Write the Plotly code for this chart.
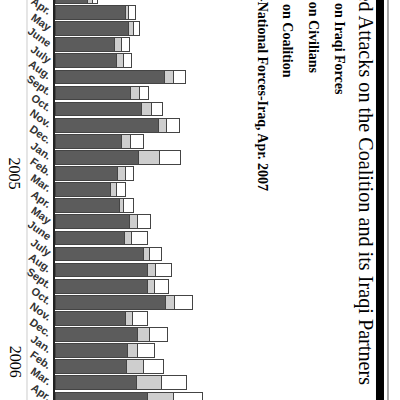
import plotly.graph_objects as go

# months shown top to bottom (Mar. 2004 is cut off at the top edge)
months = ["Mar.", "Apr.", "May", "June", "July", "Aug.", "Sept.", "Oct.", "Nov.", "Dec.",
          "Jan.", "Feb.", "Mar.", "Apr.", "May", "June", "July", "Aug.", "Sept.", "Oct.", "Nov.", "Dec.",
          "Jan.", "Feb.", "Mar.", "Apr."]
row_index = list(range(len(months)))

# average weekly attacks (estimates)
on_coalition = [128, 280, 292, 236, 244, 436, 300, 344, 412, 264,
                332, 248, 220, 256, 296, 276, 352, 368, 368, 440, 280, 328,
                288, 284, 324, 368]
on_civilians = [20, 12, 20, 28, 28, 36, 36, 40, 32, 36,
                84, 32, 24, 16, 32, 28, 24, 32, 28, 36, 28, 48,
                40, 68, 100, 104]
on_iraqi_forces = [20, 28, 24, 32, 32, 48, 36, 44, 52, 52,
                   84, 32, 36, 40, 52, 64, 48, 64, 56, 72, 60, 72,
                   68, 80, 100, 116]

year_labels = ["2005", "2006"]
year_rows = [11.0, 22.7]

title = "Enemy-Initiated Attacks on the Coalition and its Iraqi Partners"
legend_texts = ["Attacks on Iraqi Forces", "Attacks on Civilians", "Attacks on Coalition"]
source = "Source: Multi-National Forces-Iraq, Apr. 2007"

outline = dict(color="#444444", width=1)

fig = go.Figure()
fig.add_trace(go.Bar(y=row_index, x=on_coalition, orientation="h", name="Attacks on Coalition",
                     marker=dict(color="#5c5c5c", line=outline)))
fig.add_trace(go.Bar(y=row_index, x=on_civilians, orientation="h", name="Attacks on Civilians",
                     marker=dict(color="#cecece", line=outline)))
fig.add_trace(go.Bar(y=row_index, x=on_iraqi_forces, orientation="h", name="Attacks on Iraqi Forces",
                     marker=dict(color="#ffffff", line=outline)))

fig.update_layout(
    width=400, height=400,
    margin=dict(l=55, r=0, t=0, b=0),
    barmode="stack", bargap=0.15,
    showlegend=False,
    paper_bgcolor="white", plot_bgcolor="white",
    xaxis=dict(visible=False, range=[0, 1380], automargin=False),
    yaxis=dict(range=[25.07, 0.224], tickvals=row_index, ticktext=months,
               tickangle=35, ticks="", showgrid=False, zeroline=False, automargin=False,
               ticklabeloverflow="allow",
               showline=True, linecolor="#222222", linewidth=1.5,
               tickfont=dict(family="Liberation Sans", size=11, color="#333333", weight="bold")),
)

# rotated text: title, legend labels (swatches are off the crop), source
fig.add_annotation(text=title, xref="paper", yref="paper", x=0.8986, y=0.0325,
                   xanchor="center", yanchor="bottom", textangle=90, showarrow=False,
                   font=dict(family="Liberation Serif", size=20.2, color="black"))
legend_x = [0.826, 0.748, 0.675]
legend_end = [0.7575, 0.8125, 0.80]
for txt, lx, ly in zip(legend_texts, legend_x, legend_end):
    fig.add_annotation(text=txt, xref="paper", yref="paper", x=lx, y=ly,
                       xanchor="center", yanchor="bottom", textangle=90, showarrow=False,
                       font=dict(family="Liberation Serif", size=14, color="black", weight="bold"))
fig.add_annotation(text=source, xref="paper", yref="paper", x=0.6, y=0.5175,
                   xanchor="center", yanchor="bottom", textangle=90, showarrow=False,
                   font=dict(family="Liberation Serif", size=14, color="black", weight="bold"))

for yl, yr in zip(year_labels, year_rows):
    fig.add_annotation(text=yl, xref="paper", yref="y", x=-0.116, y=yr,
                       xanchor="center", yanchor="middle", textangle=90, showarrow=False,
                       font=dict(family="Liberation Serif", size=16, color="black"))

# frame lines on the left and right of the page
fig.add_shape(type="line", xref="paper", yref="paper", x0=-0.0812, x1=-0.0812, y0=0, y1=1,
              line=dict(color="#cccccc", width=1))
fig.add_shape(type="rect", xref="paper", yref="paper", x0=0.9304, x1=0.9536, y0=0, y1=1,
              fillcolor="black", line=dict(width=0))
fig.add_shape(type="line", xref="paper", yref="paper", x0=0.9652, x1=0.9652, y0=0, y1=1,
              line=dict(color="#555555", width=1))

# the page keeps an 8px body margin by default; drop it so the figure fills the window
fig.write_html("out.html", config={"displayModeBar": False},
               post_script="document.body.style.margin = '0';")
